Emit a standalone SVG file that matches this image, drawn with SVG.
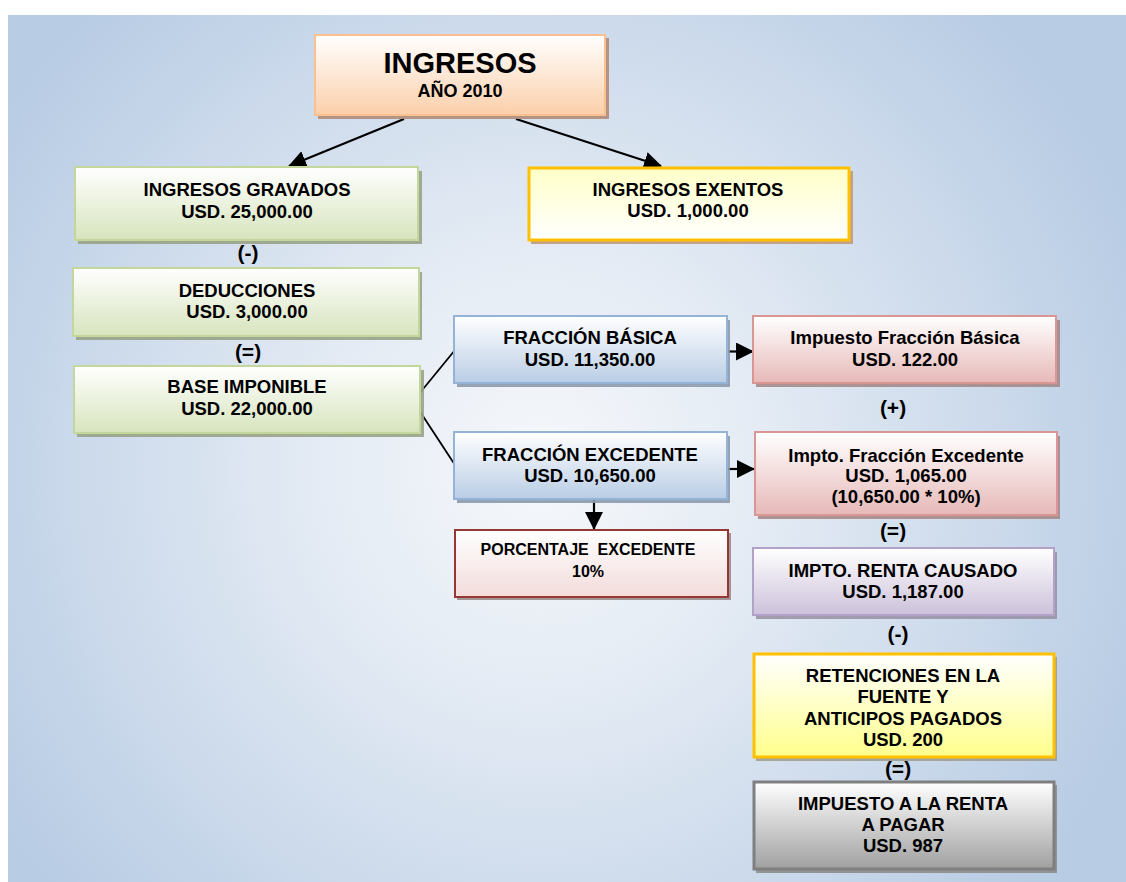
<svg xmlns="http://www.w3.org/2000/svg" width="1126" height="882" viewBox="0 0 1126 882">
<defs>
<radialGradient id="bg" cx="540" cy="470" r="640" gradientUnits="userSpaceOnUse">
<stop offset="0" stop-color="#f6f8fb"/>
<stop offset="0.35" stop-color="#e4ebf4"/>
<stop offset="1" stop-color="#b8cce4"/>
</radialGradient>
<linearGradient id="gOrange" x1="0" y1="0" x2="0" y2="1"><stop offset="0" stop-color="#ffffff"/><stop offset="1" stop-color="#fbcfaa"/></linearGradient>
<linearGradient id="gGreen" x1="0" y1="0" x2="0" y2="1"><stop offset="0" stop-color="#ffffff"/><stop offset="1" stop-color="#d7e4bd"/></linearGradient>
<linearGradient id="gYellowTop" x1="0" y1="0" x2="0" y2="1"><stop offset="0" stop-color="#ffffc8"/><stop offset="1" stop-color="#ffffff"/></linearGradient>
<linearGradient id="gBlue" x1="0" y1="0" x2="0" y2="1"><stop offset="0" stop-color="#ffffff"/><stop offset="1" stop-color="#b9cde5"/></linearGradient>
<linearGradient id="gPink" x1="0" y1="0" x2="0" y2="1"><stop offset="0" stop-color="#ffffff"/><stop offset="1" stop-color="#e6b9b8"/></linearGradient>
<linearGradient id="gRose" x1="0" y1="0" x2="0" y2="1"><stop offset="0" stop-color="#ffffff"/><stop offset="1" stop-color="#f2dcdb"/></linearGradient>
<linearGradient id="gPurple" x1="0" y1="0" x2="0" y2="1"><stop offset="0" stop-color="#ffffff"/><stop offset="1" stop-color="#ccc1da"/></linearGradient>
<linearGradient id="gYellowBot" x1="0" y1="0" x2="0" y2="1"><stop offset="0" stop-color="#ffffff"/><stop offset="1" stop-color="#ffff8c"/></linearGradient>
<linearGradient id="gGray" x1="0" y1="0" x2="0" y2="1"><stop offset="0" stop-color="#ffffff"/><stop offset="1" stop-color="#a0a0a0"/></linearGradient>
<marker id="arr" markerUnits="userSpaceOnUse" markerWidth="18" markerHeight="18" refX="17" refY="9" orient="auto" viewBox="0 0 18 18">
<path d="M0,0 L18,9 L0,18 z" fill="#000"/>
</marker>
</defs>
<style>
text{font-family:"Liberation Sans",Arial,sans-serif;font-weight:bold;fill:#000;text-anchor:middle;font-size:18.5px}
.title{font-size:29px}
.sub{font-size:18px}
.op{font-size:21px}
.small{font-size:16px}
.sh{opacity:0.9}
.con{stroke:#000;fill:none}
</style>
<rect x="8" y="15" width="1118" height="867" fill="url(#bg)"/>

<g id="connectors">
<line class="con" x1="404" y1="119" x2="289" y2="166" stroke-width="2.2" marker-end="url(#arr)"/>
<line class="con" x1="516" y1="119" x2="661" y2="166" stroke-width="2.2" marker-end="url(#arr)"/>
<line class="con" x1="419" y1="394" x2="455" y2="350" stroke-width="1.8"/>
<line class="con" x1="417" y1="407" x2="455" y2="465" stroke-width="1.8"/>
<line class="con" x1="727" y1="351.5" x2="753" y2="351.5" stroke-width="2.2" marker-end="url(#arr)"/>
<line class="con" x1="727" y1="469" x2="754" y2="469" stroke-width="2.2" marker-end="url(#arr)"/>
<line class="con" x1="594" y1="499" x2="594" y2="529" stroke-width="2.2" marker-end="url(#arr)"/>
</g>

<g id="n-ingresos">
<rect x="318" y="38" width="291" height="81" fill="#b08c78" class="sh"/>
<rect x="315" y="35" width="290" height="80" fill="url(#gOrange)" stroke="#fac090" stroke-width="2"/>
<text x="460" y="73" class="title">INGRESOS</text>
<text x="460" y="97" class="sub">AÑO 2010</text>
</g>

<g id="n-gravados">
<rect x="78" y="171" width="344" height="73" fill="#99a387" class="sh"/>
<rect x="75" y="167" width="343" height="73" fill="url(#gGreen)" stroke="#c3d69b" stroke-width="2"/>
<text x="247" y="196">INGRESOS GRAVADOS</text>
<text x="247" y="218">USD. 25,000.00</text>
</g>

<text x="248" y="260" class="op">(-)</text>

<g id="n-deducciones">
<rect x="76" y="272" width="346" height="68" fill="#99a387" class="sh"/>
<rect x="73" y="268" width="346" height="68" fill="url(#gGreen)" stroke="#c3d69b" stroke-width="2"/>
<text x="247" y="297">DEDUCCIONES</text>
<text x="247" y="318">USD. 3,000.00</text>
</g>

<text x="248" y="359" class="op">(=)</text>

<g id="n-base">
<rect x="77" y="370" width="347" height="67" fill="#99a387" class="sh"/>
<rect x="74" y="366" width="346" height="67" fill="url(#gGreen)" stroke="#c3d69b" stroke-width="2"/>
<text x="247" y="393">BASE IMPONIBLE</text>
<text x="247" y="415">USD. 22,000.00</text>
</g>

<g id="n-exentos">
<rect x="531" y="171" width="322" height="73" fill="#bf9a80" class="sh"/>
<rect x="529" y="168" width="320" height="72" fill="url(#gYellowTop)" stroke="#ffc000" stroke-width="3"/>
<text x="688" y="196">INGRESOS EXENTOS</text>
<text x="688" y="217">USD. 1,000.00</text>
</g>

<g id="n-fbasica">
<rect x="457" y="320" width="273" height="67" fill="#8c9aad" class="sh"/>
<rect x="454" y="316" width="273" height="67" fill="url(#gBlue)" stroke="#95b3d7" stroke-width="2"/>
<text x="590" y="344">FRACCIÓN BÁSICA</text>
<text x="590" y="366">USD. 11,350.00</text>
</g>

<g id="n-fexcedente">
<rect x="457" y="436" width="273" height="67" fill="#8c9aad" class="sh"/>
<rect x="454" y="432" width="273" height="67" fill="url(#gBlue)" stroke="#95b3d7" stroke-width="2"/>
<text x="590" y="461">FRACCIÓN EXCEDENTE</text>
<text x="590" y="482">USD. 10,650.00</text>
</g>

<g id="n-porcentaje">
<rect x="457" y="533" width="274" height="67" fill="#9a8c8c" class="sh"/>
<rect x="455" y="530" width="273" height="67" fill="url(#gRose)" stroke="#953735" stroke-width="2"/>
<text x="588" y="555" class="small" xml:space="preserve">PORCENTAJE  EXCEDENTE</text>
<text x="588" y="577" class="small">10%</text>
</g>

<g id="n-ifb">
<rect x="756" y="320" width="304" height="67" fill="#a68a8a" class="sh"/>
<rect x="753" y="316" width="303" height="67" fill="url(#gPink)" stroke="#d99694" stroke-width="2"/>
<text x="905" y="344">Impuesto Fracción Básica</text>
<text x="905" y="366">USD. 122.00</text>
</g>

<text x="893" y="415" class="op">(+)</text>

<g id="n-ife">
<rect x="758" y="436" width="302" height="83" fill="#a68a8a" class="sh"/>
<rect x="755" y="432" width="302" height="83" fill="url(#gPink)" stroke="#d99694" stroke-width="2"/>
<text x="906" y="462">Impto. Fracción Excedente</text>
<text x="906" y="482">USD. 1,065.00</text>
<text x="906" y="503">(10,650.00 * 10%)</text>
</g>

<text x="893" y="538" class="op">(=)</text>

<g id="n-causado">
<rect x="756" y="552" width="301" height="67" fill="#9a94a6" class="sh"/>
<rect x="753" y="548" width="301" height="67" fill="url(#gPurple)" stroke="#b3a2c7" stroke-width="2"/>
<text x="903" y="577">IMPTO. RENTA CAUSADO</text>
<text x="903" y="598">USD. 1,187.00</text>
</g>

<text x="898" y="641" class="op">(-)</text>

<g id="n-retenciones">
<rect x="756" y="657" width="301" height="104" fill="#a09e90" class="sh"/>
<rect x="754" y="654" width="300" height="103" fill="url(#gYellowBot)" stroke="#ffc000" stroke-width="3"/>
<text x="903" y="682">RETENCIONES EN LA</text>
<text x="903" y="703">FUENTE Y</text>
<text x="903" y="725">ANTICIPOS PAGADOS</text>
<text x="903" y="746">USD. 200</text>
</g>

<text x="898" y="776" class="op">(=)</text>

<g id="n-pagar">
<rect x="756" y="785" width="301" height="88" fill="#8c8c8c" class="sh"/>
<rect x="754" y="782" width="300" height="87" fill="url(#gGray)" stroke="#7f7f7f" stroke-width="3"/>
<text x="903" y="810">IMPUESTO A LA RENTA</text>
<text x="903" y="831">A PAGAR</text>
<text x="903" y="852">USD. 987</text>
</g>
</svg>
